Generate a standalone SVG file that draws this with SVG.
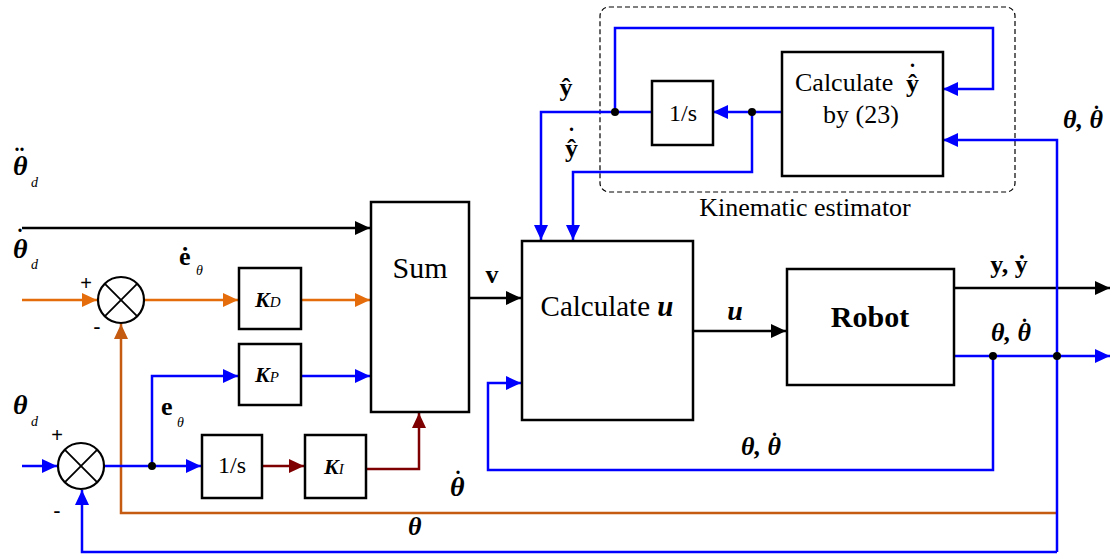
<svg xmlns="http://www.w3.org/2000/svg" width="1115" height="556" viewBox="0 0 1115 556">
<style>
.box{fill:#fff;stroke:#000;stroke-width:2.5}
.sum{fill:#fff;stroke:#000;stroke-width:2.2}
.cross{stroke:#000;stroke-width:1.8}
.k{stroke:#000;stroke-width:2.5;fill:none}
.o{stroke:#E46C0A;stroke-width:2.5;fill:none}
.of{stroke:#C55A11;stroke-width:2.5;fill:none}
.b{stroke:#0000FF;stroke-width:2.5;fill:none}
.r{stroke:#7F0000;stroke-width:2.5;fill:none}
.m{font-weight:bold;font-style:italic}
.bd{font-weight:bold}
.it{font-style:italic}
.dt{font-weight:bold;font-style:normal;font-size:20px}
</style>
<defs>
<marker id="ak" markerUnits="userSpaceOnUse" markerWidth="16" markerHeight="14" refX="15" refY="7" orient="auto"><path d="M0,0 L15,7 L0,14 z" fill="#000"/></marker>
<marker id="ao" markerUnits="userSpaceOnUse" markerWidth="16" markerHeight="14" refX="15" refY="7" orient="auto"><path d="M0,0 L15,7 L0,14 z" fill="#E46C0A"/></marker>
<marker id="aof" markerUnits="userSpaceOnUse" markerWidth="16" markerHeight="14" refX="15" refY="7" orient="auto"><path d="M0,0 L15,7 L0,14 z" fill="#C55A11"/></marker>
<marker id="ab" markerUnits="userSpaceOnUse" markerWidth="16" markerHeight="14" refX="15" refY="7" orient="auto"><path d="M0,0 L15,7 L0,14 z" fill="#0000FF"/></marker>
<marker id="ar" markerUnits="userSpaceOnUse" markerWidth="16" markerHeight="14" refX="15" refY="7" orient="auto"><path d="M0,0 L15,7 L0,14 z" fill="#7F0000"/></marker>
</defs>

<g font-family="'Liberation Serif', 'Times New Roman', serif" fill="#000">

<g id="estimator-frame">
<rect x="600" y="7" width="415" height="185" rx="9" fill="none" stroke="#000" stroke-width="1.2" stroke-dasharray="5,3"/>
<text x="805" y="216" font-size="26" text-anchor="middle">Kinematic estimator</text>
</g>

<g id="connectors">
<path class="k" d="M22,228 H370" marker-end="url(#ak)"/>
<path class="k" d="M469,298 H521" marker-end="url(#ak)"/>
<path class="k" d="M693,331 H786" marker-end="url(#ak)"/>
<path class="k" d="M954,288 H1110" marker-end="url(#ak)"/>
<path class="o" d="M22,300 H97" marker-end="url(#ao)"/>
<path class="o" d="M144,300 H238" marker-end="url(#ao)"/>
<path class="o" d="M301,300 H370" marker-end="url(#ao)"/>
<path class="of" d="M1057,513 H121 V324" marker-end="url(#aof)"/>
<path class="b" d="M22,466 H57" marker-end="url(#ab)"/>
<path class="b" d="M104,466 H201" marker-end="url(#ab)"/>
<path class="b" d="M152,466 V376 H238" marker-end="url(#ab)"/>
<path class="b" d="M301,376 H370" marker-end="url(#ab)"/>
<path class="b" d="M954,356 H1110" marker-end="url(#ab)"/>
<path class="b" d="M993,356 V470 H488 V383 H521" marker-end="url(#ab)"/>
<path class="b" d="M1057,552 H82 V490" marker-end="url(#ab)"/>
<path class="b" d="M1057,552 V140 H943" marker-end="url(#ab)"/>
<path class="b" d="M652,112 H541 V240" marker-end="url(#ab)"/>
<path class="b" d="M615,112 V28 H993 V89 H943" marker-end="url(#ab)"/>
<path class="b" d="M782,112 H713" marker-end="url(#ab)"/>
<path class="b" d="M752,112 V172 H573 V240" marker-end="url(#ab)"/>
<path class="r" d="M262,466 H304" marker-end="url(#ar)"/>
<path class="r" d="M366,469 H419 V413" marker-end="url(#ar)"/>
<g fill="#000">
<circle cx="152" cy="466" r="4"/>
<circle cx="615" cy="112" r="4"/>
<circle cx="752" cy="112" r="4"/>
<circle cx="993" cy="356" r="4"/>
<circle cx="1057" cy="356" r="4"/>
</g>
</g>

<g id="sum-top">
<circle class="sum" cx="121" cy="300" r="23"/>
<path class="cross" d="M104.7,283.7 L137.3,316.3 M137.3,283.7 L104.7,316.3"/>
<text font-family="'Liberation Sans', Arial, sans-serif" x="86" y="290" font-size="20" text-anchor="middle">+</text>
<text font-family="'Liberation Sans', Arial, sans-serif" x="97" y="334" font-size="22" text-anchor="middle">-</text>
</g>
<g id="sum-bottom">
<circle class="sum" cx="81" cy="466" r="23"/>
<path class="cross" d="M64.7,449.7 L97.3,482.3 M97.3,449.7 L64.7,482.3"/>
<text font-family="'Liberation Sans', Arial, sans-serif" x="57" y="442" font-size="20" text-anchor="middle">+</text>
<text font-family="'Liberation Sans', Arial, sans-serif" x="57" y="518" font-size="22" text-anchor="middle">-</text>
</g>

<g id="KD">
<rect class="box" x="239" y="268" width="62" height="61"/>
<text x="255" y="307" font-size="22"><tspan class="m">K</tspan><tspan class="it" font-size="15">D</tspan></text>
</g>
<g id="KP">
<rect class="box" x="239" y="344" width="62" height="61"/>
<text x="255" y="382" font-size="22"><tspan class="m">K</tspan><tspan class="it" font-size="15">P</tspan></text>
</g>
<g id="integrator">
<rect class="box" x="202" y="435" width="60" height="63"/>
<text x="232" y="473" font-size="24" text-anchor="middle">1/s</text>
</g>
<g id="KI">
<rect class="box" x="305" y="435" width="61" height="63"/>
<text x="324" y="474" font-size="22"><tspan class="m">K</tspan><tspan class="it" font-size="15">I</tspan></text>
</g>
<g id="Sum">
<rect class="box" x="371" y="202" width="98" height="210"/>
<text x="420" y="278" font-size="30" text-anchor="middle">Sum</text>
</g>
<g id="CalcU">
<rect class="box" x="522" y="241" width="171" height="179"/>
<text x="607" y="316" font-size="29" text-anchor="middle">Calculate <tspan class="m">u</tspan></text>
</g>
<g id="Robot">
<rect class="box" x="787" y="269" width="167" height="116"/>
<text x="870" y="327" font-size="30" class="bd" text-anchor="middle">Robot</text>
</g>
<g id="integrator2">
<rect class="box" x="652" y="81" width="61" height="64"/>
<text x="683" y="121" font-size="24" text-anchor="middle">1/s</text>
</g>
<g id="CalcYdot">
<rect class="box" x="782" y="52" width="161" height="124"/>
<text x="795" y="91" font-size="26">Calculate<tspan class="bd" x="906" y="92">&#x177;</tspan><tspan class="dt" dx="-9" dy="-25">.</tspan></text>
<text x="861" y="123" font-size="26" text-anchor="middle">by (23)</text>
</g>

<g id="labels">
<text x="13" y="175" font-size="28" class="m">&#x3B8;<tspan class="dt" dx="-13" dy="-24">..</tspan></text>
<text x="31" y="187" font-size="14" class="it">d</text>
<text x="13" y="258" font-size="28" class="m">&#x3B8;<tspan class="dt" dx="-10" dy="-26">.</tspan></text>
<text x="31" y="269" font-size="14" class="it">d</text>
<text x="13" y="414" font-size="28" class="m">&#x3B8;</text>
<text x="31" y="426" font-size="14" class="it">d</text>
<text x="179" y="265" font-size="26" class="bd">&#x117;</text>
<text x="196" y="275" font-size="14" class="it">&#x3B8;</text>
<text x="161" y="415" font-size="26" class="bd">e</text>
<text x="177" y="427" font-size="14" class="it">&#x3B8;</text>
<text x="492" y="283" font-size="26" class="bd" text-anchor="middle">v</text>
<text x="735" y="320" font-size="28" class="m" text-anchor="middle">u</text>
<text x="1009" y="273" font-size="26" class="bd" text-anchor="middle">y, &#x1E8F;</text>
<text x="991" y="341" font-size="26" class="m">&#x3B8;, &#x3B8;<tspan class="dt" dx="-9" dy="-19">.</tspan></text>
<text x="741" y="455" font-size="26" class="m">&#x3B8;, &#x3B8;<tspan class="dt" dx="-9" dy="-19">.</tspan></text>
<text x="1063" y="128" font-size="26" class="m">&#x3B8;, &#x3B8;<tspan class="dt" dx="-9" dy="-19">.</tspan></text>
<text x="450" y="496" font-size="28" class="m">&#x3B8;<tspan class="dt" dx="-9" dy="-22">.</tspan></text>
<text x="408" y="535" font-size="26" class="m">&#x3B8;</text>
<text x="566" y="96" font-size="26" class="bd" text-anchor="middle">&#x177;</text>
<text x="565" y="157" font-size="26" class="bd">&#x177;<tspan class="dt" dx="-9" dy="-26">.</tspan></text>
</g>
</g>
</svg>
